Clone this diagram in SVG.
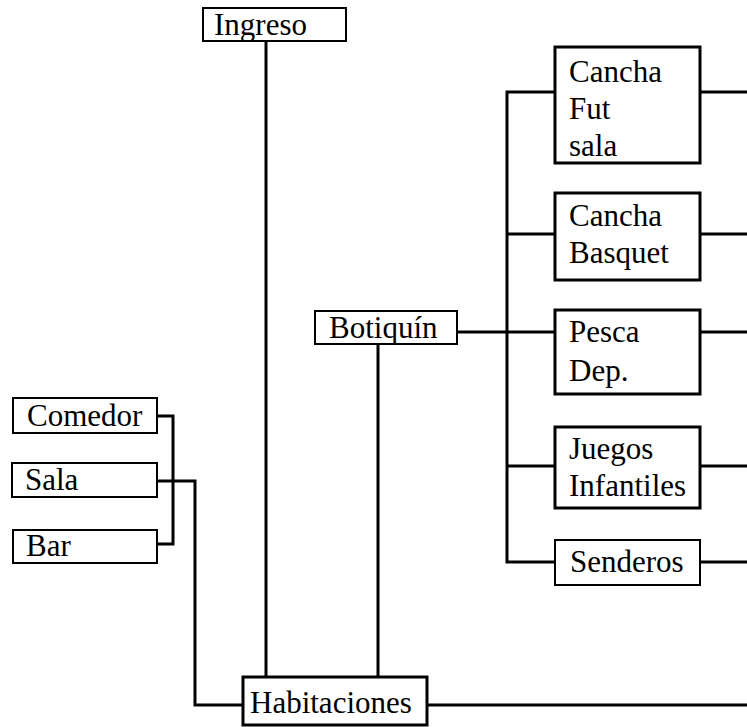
<svg xmlns="http://www.w3.org/2000/svg" width="747" height="727" viewBox="0 0 747 727">
<style>
  text { font-family: "Liberation Serif", "Times New Roman", serif; font-size: 31px; fill: #000; }
  .box { fill: #fff; stroke: #000; stroke-width: 2; }
  .tbox { fill: #fff; stroke: #000; stroke-width: 3; }
  .conn { fill: none; stroke: #000; stroke-width: 3; }
</style>
<rect width="747" height="727" fill="#fff"/>
<g id="connectors">
  <path class="conn" d="M266,41 V677"/>
  <path class="conn" d="M378,344 V677"/>
  <path class="conn" d="M457,332 H507"/>
  <path class="conn" d="M555,92 H507 V562 H555"/>
  <path class="conn" d="M507,234 H555"/>
  <path class="conn" d="M507,332 H555"/>
  <path class="conn" d="M507,466 H555"/>
  <path class="conn" d="M700,92 H747"/>
  <path class="conn" d="M700,234 H747"/>
  <path class="conn" d="M700,332 H747"/>
  <path class="conn" d="M700,466 H747"/>
  <path class="conn" d="M700,562 H747"/>
  <path class="conn" d="M427,705 H747"/>
  <path class="conn" d="M157,416 H173 V544 H157"/>
  <path class="conn" d="M157,481 H195 V705 H243"/>
</g>
<g id="ingreso">
  <rect class="box" x="203" y="8" width="143" height="33"/>
  <text x="214" y="35">Ingreso</text>
</g>
<g id="botiquin">
  <rect class="box" x="315" y="311" width="142" height="33"/>
  <text x="329" y="338">Botiquín</text>
</g>
<g id="cancha-fut-sala">
  <rect class="tbox" x="555" y="47" width="145" height="116"/>
  <text x="569" y="82">Cancha</text>
  <text x="569" y="119">Fut</text>
  <text x="569" y="156">sala</text>
</g>
<g id="cancha-basquet">
  <rect class="tbox" x="555" y="193" width="145" height="87"/>
  <text x="569" y="226">Cancha</text>
  <text x="569" y="263">Basquet</text>
</g>
<g id="pesca-dep">
  <rect class="tbox" x="555" y="310" width="145" height="84"/>
  <text x="569" y="342">Pesca</text>
  <text x="569" y="381">Dep.</text>
</g>
<g id="juegos-infantiles">
  <rect class="tbox" x="555" y="427" width="145" height="81"/>
  <text x="569" y="459">Juegos</text>
  <text x="569" y="496">Infantiles</text>
</g>
<g id="senderos">
  <rect class="box" x="555" y="540" width="145" height="45"/>
  <text x="570" y="572">Senderos</text>
</g>
<g id="comedor">
  <rect class="box" x="13" y="398" width="144" height="35"/>
  <text x="27" y="426">Comedor</text>
</g>
<g id="sala">
  <rect class="box" x="12" y="463" width="145" height="34"/>
  <text x="25" y="490">Sala</text>
</g>
<g id="bar">
  <rect class="box" x="13" y="530" width="144" height="33"/>
  <text x="26" y="556">Bar</text>
</g>
<g id="habitaciones">
  <rect class="tbox" x="243" y="677" width="184" height="48"/>
  <text x="250" y="713">Habitaciones</text>
</g>
</svg>
